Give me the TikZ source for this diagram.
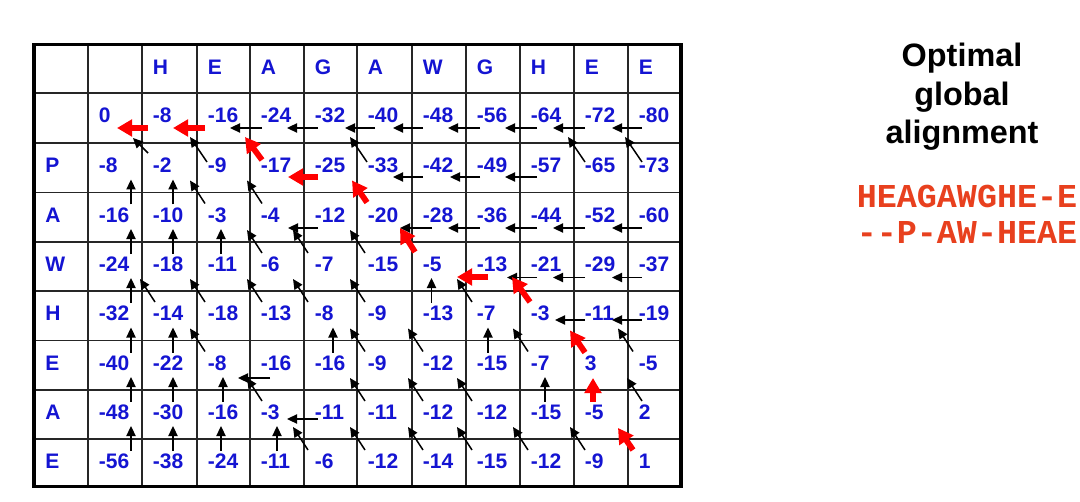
\documentclass[tikz,border=0pt]{standalone}
\usepackage{fontspec}
\setmainfont{Liberation Sans}
\setmonofont{Liberation Mono}
\usetikzlibrary{arrows.meta}
\definecolor{cellblue}{RGB}{20,20,210}
\definecolor{alnred}{RGB}{232,64,30}
\definecolor{pathred}{RGB}{255,0,0}
\tikzset{
  val/.style={anchor=base west, inner sep=0pt, text=cellblue,
    font=\bfseries\fontsize{10.5}{12}\selectfont},
  barr/.style={draw=black, line width=0.75pt, -{Triangle[length=5pt,width=4.6pt]}},
  rarr/.style={draw=pathred, line width=2.9pt, -{Triangle[length=7.5pt,width=8.2pt]}},
  gridline/.style={line width=0.65pt, draw=black!85},
  titletext/.style={anchor=base, inner sep=0pt, font=\bfseries\fontsize{16.2}{19}\selectfont},
  alntext/.style={anchor=base, inner sep=0pt, text=alnred,
    font=\ttfamily\bfseries\fontsize{16.7}{20}\selectfont},
}
\begin{document}
\begin{tikzpicture}[x=0.5pt,y=-0.5pt]
\fill[white] (0,0) rectangle (1080,502);
\useasboundingbox (0,0) rectangle (1080,502);

% grid coordinates
\foreach \yy [count=\i from 0] in {93,143,192.5,242,291,340.5,390,439,488}
  \foreach \xx [count=\j from 0] in {88,142,197,250,304,357,412,466,520,574,628,681}
    \coordinate (g-\i-\j) at (\xx,\yy);

% grid lines
\foreach \xx in {88,142,197,250,304,357,412,466,520,574,628}
  \draw[gridline] (\xx,44) -- (\xx,487);
\foreach \yy in {93,143,192.5,242,291,340.5,390,439}
  \draw[gridline] (34,\yy) -- (681,\yy);
\draw[line width=1.8pt, draw=black] (34,44.5) rectangle (681,486.5);

% header letters
\foreach \ch [count=\j from 1] in {H,E,A,G,A,W,G,H,E,E}
  \node[val] (h-\j) at ([shift={(10.5,-18.5)}]g-0-\j) {\ch};

% row labels
\foreach \ch [count=\i from 1] in {P,A,W,H,E,A,E}
  \node[val] (r-\i) at ([shift={(-43,29.5)}]g-\i-0) {\ch};

% cell values
\foreach \rowlist [count=\i from 0] in {
  {0,-8,-16,-24,-32,-40,-48,-56,-64,-72,-80},
  {-8,-2,-9,-17,-25,-33,-42,-49,-57,-65,-73},
  {-16,-10,-3,-4,-12,-20,-28,-36,-44,-52,-60},
  {-24,-18,-11,-6,-7,-15,-5,-13,-21,-29,-37},
  {-32,-14,-18,-13,-8,-9,-13,-7,-3,-11,-19},
  {-40,-22,-8,-16,-16,-9,-12,-15,-7,3,-5},
  {-48,-30,-16,-3,-11,-11,-12,-12,-15,-5,2},
  {-56,-38,-24,-11,-6,-12,-14,-15,-12,-9,1}}
  \foreach \cellv [count=\j from 0] in \rowlist
    \node[val] (c-\i-\j) at ([shift={(10.5,29.5)}]g-\i-\j) {\cellv};

% black left arrows: row/col/tail dx/tip dx/dy
\foreach \i/\j/\tl/\hd/\dy in {
  0/3/12/-20/35, 0/4/14/-17/35, 0/5/18/-12/35, 0/6/11/-19/35, 0/7/14/-18/35,
  0/8/17/-15/35, 0/9/11/-21/35, 0/10/14/-16/35,
  1/6/11/-19/34, 1/7/14/-16/34, 1/8/17/-15/34,
  2/4/14/-16/35.5, 2/6/20/-12/35.5, 2/7/14/-18/35.5, 2/8/17/-15/35.5,
  2/9/11/-21/35.5, 2/10/14/-16/35.5,
  3/8/17/-13/35.5, 3/9/11/-21/35.5, 3/10/14/-16/35.5,
  4/9/11/-19/29, 4/10/14/-16/29,
  5/3/20/-12/37.5,
  6/4/14/-17/29}
  \draw[barr] ([shift={(\tl,\dy)}]g-\i-\j) -- ([shift={(\hd,\dy)}]g-\i-\j);

% black up arrows: row/col/x offset
\foreach \i/\j/\ux in {
  2/0/43, 3/0/43, 4/0/43, 5/0/43, 6/0/43, 7/0/43,
  2/1/31, 3/1/31, 5/1/31, 6/1/31, 7/1/31,
  3/2/24, 6/2/26, 7/2/24, 7/3/27, 5/4/29,
  4/6/19.5, 5/7/22, 6/8/25}
  \draw[barr] ([shift={(\ux,12)}]g-\i-\j) -- ([shift={(\ux,-13)}]g-\i-\j);

% black diagonal arrows (rows 2-7): row/col/tip dx
\foreach \i/\j/\dx in {
  2/2/-7, 2/3/-3,
  3/3/-3, 3/4/-11, 3/5/-7,
  4/1/-2, 4/2/-7, 4/3/-3, 4/4/-11, 4/5/-7, 4/7/-9,
  5/2/-7, 5/5/-7, 5/6/-4, 5/8/-7, 5/10/-10,
  6/3/-3, 6/5/-7, 6/6/-4, 6/7/-9, 6/10/-1,
  7/4/-11, 7/5/-7, 7/6/-4, 7/7/-9, 7/8/-7, 7/9/-4}
  \draw[barr] ([shift={(\dx+15,11)}]g-\i-\j) -- ([shift={(\dx,-12)}]g-\i-\j);

% black diagonal arrows into the first score row
\foreach \j/\dx in {2/-7, 5/-7, 9/-6, 10/-3}
  \draw[barr] ([shift={(\dx+17,19)}]g-1-\j) -- ([shift={(\dx,-6)}]g-1-\j);
\draw[barr] ([shift={(6,10)}]g-1-1) -- ([shift={(-9,-5)}]g-1-1);

% red traceback path
\draw[rarr] ([shift={(6,35)}]g-0-1) -- ([shift={(-25,35)}]g-0-1);
\draw[rarr] ([shift={(8,35)}]g-0-2) -- ([shift={(-24,35)}]g-0-2);
\draw[rarr] ([shift={(12,17)}]g-1-3) -- ([shift={(-5,-6)}]g-1-3);
\draw[rarr] ([shift={(14,34)}]g-1-4) -- ([shift={(-16,34)}]g-1-4);
\draw[rarr] ([shift={(10,10)}]g-2-5) -- ([shift={(-5,-12)}]g-2-5);
\draw[rarr] ([shift={(3,10)}]g-3-6) -- ([shift={(-12,-14)}]g-3-6);
\draw[rarr] ([shift={(22,35)}]g-3-7) -- ([shift={(-9,35)}]g-3-7);
\draw[rarr] ([shift={(10,11)}]g-4-8) -- ([shift={(-8,-14)}]g-4-8);
\draw[rarr] ([shift={(11,12)}]g-5-9) -- ([shift={(-4,-10)}]g-5-9);
\draw[rarr] ([shift={(19,12)}]g-6-9) -- ([shift={(19,-12)}]g-6-9);
\draw[rarr] ([shift={(5,11)}]g-7-10) -- ([shift={(-10,-11)}]g-7-10);

% right-hand texts
\node[titletext] (t1) at (962,67) {Optimal};
\node[titletext] (t2) at (962,106) {global};
\node[titletext] (t3) at (962,144) {alignment};
\node[alntext] (a1) at (967,207) {HEAGAWGHE-E};
\node[alntext] (a2) at (967,243) {--P-AW-HEAE};
\end{tikzpicture}
\end{document}
